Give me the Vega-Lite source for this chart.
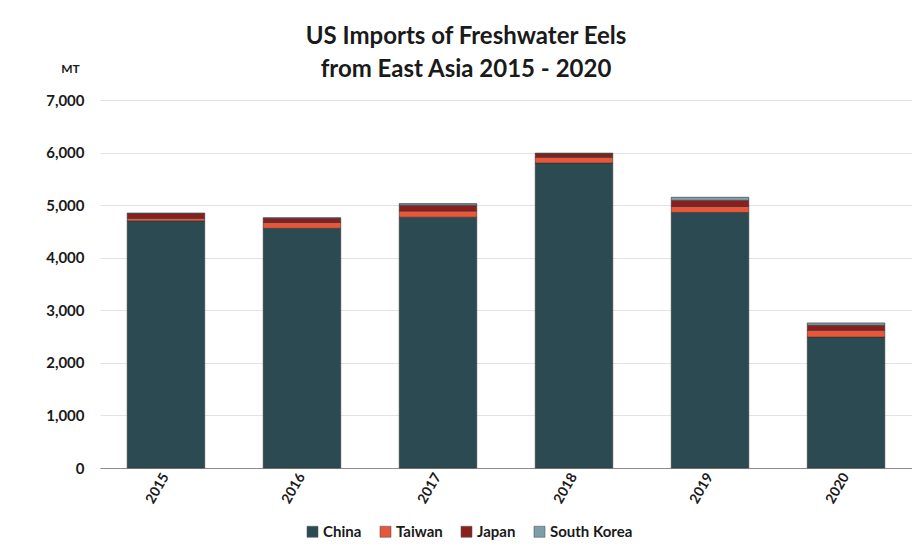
{
  "$schema": "https://vega.github.io/schema/vega-lite/v6.json",
  "width": 812,
  "height": 368,
  "autosize": {"type": "none"},
  "padding": {"left": 100, "top": 100, "right": 0, "bottom": 78},
  "background": "white",
  "title": {
    "text": ["US Imports of Freshwater Eels", "from East Asia 2015 - 2020"],
    "font": "Lato",
    "fontSize": 24,
    "fontWeight": "bold",
    "color": "#1a1a1a",
    "anchor": "middle",
    "frame": "group",
    "dx": -40,
    "offset": -20,
    "lineHeight": 33
  },
  "data": {
    "values": [
      {"year": "2015", "country": "China", "mt": 4700, "o": 1},
      {"year": "2015", "country": "Taiwan", "mt": 50, "o": 2},
      {"year": "2015", "country": "Japan", "mt": 90, "o": 3},
      {"year": "2015", "country": "South Korea", "mt": 10, "o": 4},
      {"year": "2016", "country": "China", "mt": 4560, "o": 1},
      {"year": "2016", "country": "Taiwan", "mt": 110, "o": 2},
      {"year": "2016", "country": "Japan", "mt": 80, "o": 3},
      {"year": "2016", "country": "South Korea", "mt": 10, "o": 4},
      {"year": "2017", "country": "China", "mt": 4770, "o": 1},
      {"year": "2017", "country": "Taiwan", "mt": 120, "o": 2},
      {"year": "2017", "country": "Japan", "mt": 110, "o": 3},
      {"year": "2017", "country": "South Korea", "mt": 30, "o": 4},
      {"year": "2018", "country": "China", "mt": 5800, "o": 1},
      {"year": "2018", "country": "Taiwan", "mt": 110, "o": 2},
      {"year": "2018", "country": "Japan", "mt": 70, "o": 3},
      {"year": "2018", "country": "South Korea", "mt": 10, "o": 4},
      {"year": "2019", "country": "China", "mt": 4860, "o": 1},
      {"year": "2019", "country": "Taiwan", "mt": 115, "o": 2},
      {"year": "2019", "country": "Japan", "mt": 115, "o": 3},
      {"year": "2019", "country": "South Korea", "mt": 60, "o": 4},
      {"year": "2020", "country": "China", "mt": 2490, "o": 1},
      {"year": "2020", "country": "Taiwan", "mt": 130, "o": 2},
      {"year": "2020", "country": "Japan", "mt": 95, "o": 3},
      {"year": "2020", "country": "South Korea", "mt": 45, "o": 4}
    ]
  },
  "mark": {"type": "bar", "stroke": "#333333", "strokeWidth": 0.6},
  "encoding": {
    "x": {
      "field": "year",
      "type": "ordinal",
      "title": null,
      "scale": {"paddingInner": 0.43, "paddingOuter": 0.2},
      "axis": {
        "labelAngle": -60,
        "labelFont": "Lato",
        "labelFontSize": 14,
        "labelFontWeight": "bold",
        "labelColor": "#1a1a1a",
        "labelPadding": 6,
        "ticks": false,
        "domainColor": "#8c8c8c",
        "domainWidth": 1
      }
    },
    "y": {
      "field": "mt",
      "type": "quantitative",
      "aggregate": "sum",
      "stack": "zero",
      "scale": {"domain": [0, 7000]},
      "title": "MT",
      "axis": {
        "values": [0, 1000, 2000, 3000, 4000, 5000, 6000, 7000],
        "format": ",.0f",
        "labelFont": "Lato",
        "labelFontSize": 15,
        "labelFontWeight": "bold",
        "labelColor": "#1a1a1a",
        "labelPadding": 16,
        "ticks": false,
        "domain": false,
        "gridColor": "#e3e3e3",
        "gridWidth": 1,
        "titleAngle": 0,
        "titleFont": "Lato",
        "titleFontSize": 12,
        "titleFontWeight": "bold",
        "titleColor": "#1a1a1a",
        "titleX": -30,
        "titleY": -32,
        "titleAlign": "center",
        "titleBaseline": "middle"
      }
    },
    "color": {
      "field": "country",
      "type": "nominal",
      "sort": ["China", "Taiwan", "Japan", "South Korea"],
      "scale": {
        "domain": ["China", "Taiwan", "Japan", "South Korea"],
        "range": ["#2b4a52", "#e8573a", "#8b1e1e", "#7d9ea8"]
      },
      "legend": {
        "title": null,
        "orient": "none",
        "direction": "horizontal",
        "legendX": 205,
        "legendY": 424,
        "symbolType": "square",
        "symbolSize": 120,
        "symbolStrokeColor": "#555555",
        "symbolStrokeWidth": 0.6,
        "labelFont": "Lato",
        "labelFontSize": 15,
        "labelFontWeight": "bold",
        "labelColor": "#1a1a1a",
        "columnPadding": 16,
        "labelOffset": 3
      }
    },
    "order": {"field": "o", "type": "quantitative"},
    "tooltip": [{"field": "country"}, {"field": "mt"}]
  },
  "config": {"view": {"stroke": null}}
}
